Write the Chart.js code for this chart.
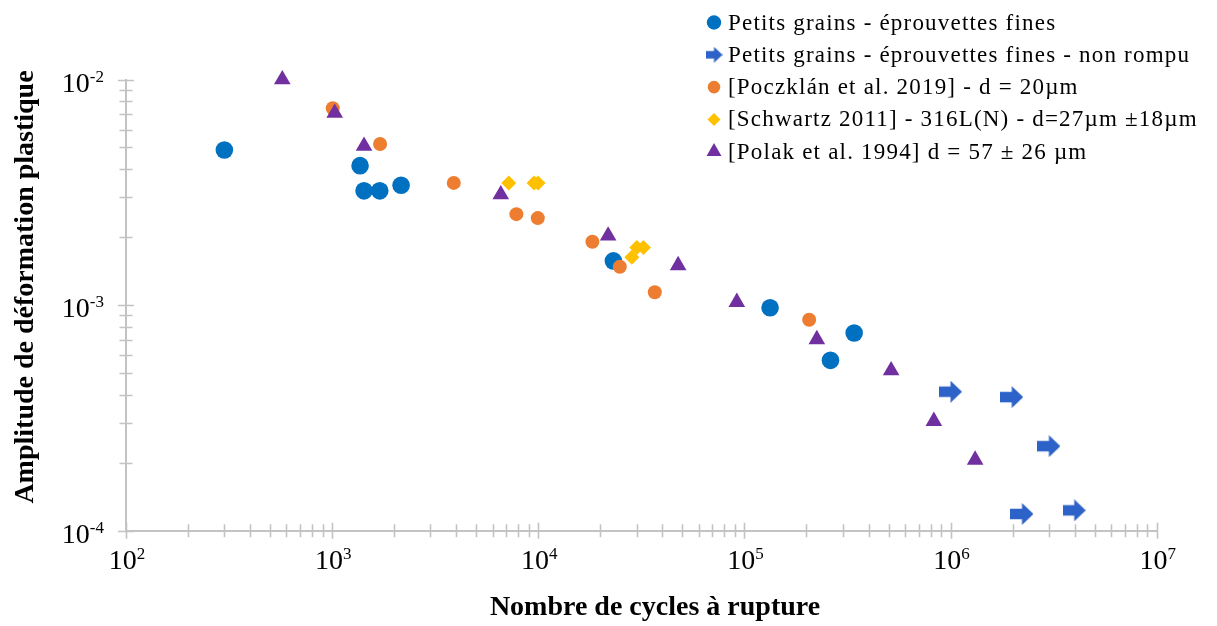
<!DOCTYPE html>
<html>
<head>
<meta charset="utf-8">
<script src="https://cdn.jsdelivr.net/npm/chart.js@4.4.1/dist/chart.umd.min.js"></script>
<style>
  html, body { margin: 0; padding: 0; background: #ffffff; }
  canvas { display: block; }
</style>
</head>
<body>
<canvas id="chart" width="1217" height="626"></canvas>
<script>
// Series labels (legend order)
const seriesLabels = [
  'Petits grains - éprouvettes fines',
  'Petits grains - éprouvettes fines - non rompu',
  '[Poczklán et al. 2019] - d = 20µm',
  '[Schwartz 2011] - 316L(N) - d=27µm ±18µm',
  '[Polak et al. 1994] d = 57 ± 26 µm'
];

// Cycles to failure (N) and plastic strain amplitude for each series
const petitsCycles   = [300, 1366, 1428, 1702, 2160, 23140, 133200, 261500, 340700];
const petitsAmp      = [0.00487, 0.00415, 0.00321, 0.00321, 0.00340, 0.00157, 0.000974, 0.000569, 0.000752];

const nonRompuCycles = [1.0e6, 1.98e6, 3.0e6, 2.22e6, 3.98e6];
const nonRompuAmp    = [0.000413, 0.000391, 0.000237, 0.0001186, 0.0001231];

const poczklanCycles = [1007, 1708, 3891, 7830, 9945, 18300, 24860, 36750, 206100];
const poczklanAmp    = [0.00746, 0.00518, 0.00348, 0.00253, 0.00243, 0.00191, 0.00148, 0.00114, 0.000861];

const schwartzCycles = [7193, 9541, 9977, 28420, 30060, 32360];
const schwartzAmp    = [0.00348, 0.00348, 0.00348, 0.00163, 0.00180, 0.00180];

const polakCycles    = [573, 1029, 1428, 6577, 21820, 47690, 91850, 224500, 514900, 829800, 1316000];
const polakAmp       = [0.0100, 0.00710, 0.00507, 0.00309, 0.00203, 0.00150, 0.00103, 0.000705, 0.000513, 0.000306, 0.000206];

// Decade tick labels: 10^exponent
const xTickExponents = [2, 3, 4, 5, 6, 7];
const yTickExponents = [-4, -3, -2];

const xTitle = 'Nombre de cycles à rupture';
const yTitle = 'Amplitude de déformation plastique';

const SERIF = '"Liberation Serif", "Times New Roman", serif';
const AXIS_GREY = '#c3c3c3';

function toPoints(xs, ys) {
  return xs.map((x, i) => ({ x: x, y: ys[i] }));
}

// Right-pointing block arrow used for run-outs
function makeArrow(w, h, color) {
  const c = document.createElement('canvas');
  c.width = w; c.height = h;
  const g = c.getContext('2d');
  g.fillStyle = color;
  g.beginPath();
  g.moveTo(0, h * 0.26);
  g.lineTo(w * 0.5, h * 0.26);
  g.lineTo(w * 0.5, 0);
  g.lineTo(w, h / 2);
  g.lineTo(w * 0.5, h);
  g.lineTo(w * 0.5, h * 0.74);
  g.lineTo(0, h * 0.74);
  g.closePath();
  g.fill();
  return c;
}
const arrowImg = makeArrow(23, 22, '#2d62c8');
const arrowLegendImg = makeArrow(17, 16, '#2d62c8');

const datasets = [
  { label: seriesLabels[0], data: toPoints(petitsCycles, petitsAmp),
    pointStyle: 'circle', pointRadius: 8.8, backgroundColor: '#0070c0', order: 4,
    legendStyle: 'circle', legendRadius: 7.2 },
  { label: seriesLabels[1], data: toPoints(nonRompuCycles, nonRompuAmp),
    pointStyle: arrowImg, pointRadius: 11, backgroundColor: '#2d62c8', order: 3,
    legendStyle: arrowLegendImg, legendRadius: 8 },
  { label: seriesLabels[2], data: toPoints(poczklanCycles, poczklanAmp),
    pointStyle: 'circle', pointRadius: 7, backgroundColor: '#ed7d31', order: 2,
    legendStyle: 'circle', legendRadius: 6.3 },
  { label: seriesLabels[3], data: toPoints(schwartzCycles, schwartzAmp),
    pointStyle: 'rectRot', pointRadius: 7.5, backgroundColor: '#ffc000', order: 1,
    legendStyle: 'rectRot', legendRadius: 6.5 },
  { label: seriesLabels[4], data: toPoints(polakCycles, polakAmp),
    pointStyle: 'triangle', pointRadius: 9.6, backgroundColor: '#7030a0', order: 0,
    legendStyle: 'triangle', legendRadius: 8.6 }
];
datasets.forEach(d => {
  d.pointBorderWidth = 0;
  d.borderWidth = 0;
  d.pointHoverRadius = d.pointRadius;
  d.clip = false;
  d.showLine = false;
});

// Log axes: tick marks crossing the axis line, and 10^n labels
const axisDecor = {
  id: 'axisDecor',
  beforeDatasetsDraw(chart) {
    const ctx = chart.ctx;
    const xs = chart.scales.x, ys = chart.scales.y;
    const area = chart.chartArea;
    ctx.save();
    ctx.strokeStyle = AXIS_GREY;
    ctx.lineWidth = 1.6;
    ctx.beginPath();
    for (let e = xTickExponents[0]; e <= xTickExponents[xTickExponents.length - 1]; e++) {
      for (let m = 1; m <= 9; m++) {
        const v = m * Math.pow(10, e);
        if (v > xs.max * 1.0001) break;
        const px = Math.round(xs.getPixelForValue(v)) + 0.5;
        const half = (m === 1) ? 8 : 6.5;
        ctx.moveTo(px, area.bottom - half);
        ctx.lineTo(px, area.bottom + half);
      }
    }
    for (let e = yTickExponents[0]; e <= yTickExponents[yTickExponents.length - 1]; e++) {
      for (let m = 1; m <= 9; m++) {
        const v = m * Math.pow(10, e);
        if (v > ys.max * 1.0001) break;
        const py = Math.round(ys.getPixelForValue(v)) + 0.5;
        const half = (m === 1) ? 8 : 6.5;
        ctx.moveTo(area.left - half, py);
        ctx.lineTo(area.left + half, py);
      }
    }
    ctx.stroke();

    // Tick labels
    ctx.fillStyle = '#000000';
    ctx.textBaseline = 'alphabetic';
    const baseFont = '28px ' + SERIF;
    const supFont = '17px ' + SERIF;
    xTickExponents.forEach(e => {
      const px = xs.getPixelForValue(Math.pow(10, e));
      const sup = String(e);
      ctx.font = baseFont;
      const wb = ctx.measureText('10').width;
      ctx.font = supFont;
      const ws = ctx.measureText(sup).width;
      const start = px - (wb + ws) / 2 + 1;
      ctx.font = baseFont;
      ctx.textAlign = 'left';
      ctx.fillText('10', start, area.bottom + 38);
      ctx.font = supFont;
      ctx.fillText(sup, start + wb, area.bottom + 28);
    });
    yTickExponents.forEach(e => {
      const py = ys.getPixelForValue(Math.pow(10, e));
      const sup = String(e);
      ctx.font = supFont;
      const ws = ctx.measureText(sup).width;
      const right = area.left - 22;
      ctx.textAlign = 'left';
      ctx.fillText(sup, right - ws, py + 2);
      ctx.font = baseFont;
      const wb = ctx.measureText('10').width;
      ctx.fillText('10', right - ws - wb, py + 12);
    });

    // Axis titles
    ctx.font = 'bold 28px ' + SERIF;
    ctx.textAlign = 'center';
    ctx.fillText(xTitle, 655, 615);
    ctx.save();
    ctx.translate(33, 287);
    ctx.rotate(-Math.PI / 2);
    ctx.fillText(yTitle, 0, 0);
    ctx.restore();
    ctx.restore();
  }
};

// Legend block in the upper right
const legendBlock = {
  id: 'legendBlock',
  afterDraw(chart) {
    const ctx = chart.ctx;
    const markerX = 714, textX = 728, firstY = 22.5, step = 32.3;
    ctx.save();
    ctx.font = '23px ' + SERIF;
    if ('letterSpacing' in ctx) ctx.letterSpacing = '1.2px';
    ctx.textBaseline = 'middle';
    ctx.textAlign = 'left';
    chart.data.datasets.forEach((ds, i) => {
      const y = firstY + i * step;
      ctx.fillStyle = ds.backgroundColor;
      Chart.helpers.drawPoint(ctx, {
        pointStyle: ds.legendStyle, radius: ds.legendRadius, rotation: 0, borderWidth: 0
      }, markerX, y);
      ctx.fillStyle = '#000000';
      ctx.fillText(ds.label, textX, y + 1);
    });
    ctx.restore();
  }
};

new Chart(document.getElementById('chart'), {
  type: 'scatter',
  data: { datasets: datasets },
  options: {
    responsive: false,
    animation: false,
    events: [],
    layout: { padding: { left: 126, top: 79.5, right: 60.3, bottom: 95.3 } },
    plugins: { legend: { display: false }, tooltip: { enabled: false } },
    scales: {
      x: {
        type: 'logarithmic', min: 100, max: 1e7, position: 'bottom',
        grid: { display: false, drawTicks: false },
        border: { display: true, color: AXIS_GREY, width: 2 },
        ticks: { display: false },
        title: { display: false }
      },
      y: {
        type: 'logarithmic', min: 1e-4, max: 1e-2, position: 'left',
        grid: { display: false, drawTicks: false },
        border: { display: true, color: AXIS_GREY, width: 2 },
        ticks: { display: false },
        title: { display: false }
      }
    }
  },
  plugins: [axisDecor, legendBlock]
});
</script>
</body>
</html>
